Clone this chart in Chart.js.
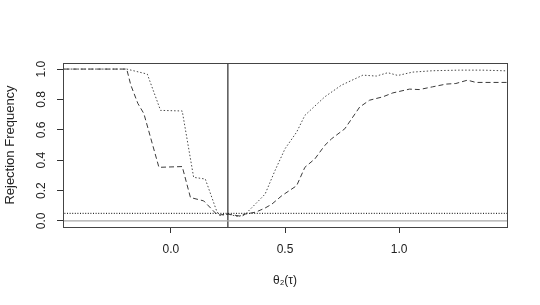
<!DOCTYPE html>
<html>
<head>
<meta charset="utf-8">
<script src="https://cdn.jsdelivr.net/npm/chart.js@4"></script>
<style>
  html, body { margin: 0; padding: 0; background: #fff; }
  #wrap { width: 540px; height: 305px; }
</style>
</head>
<body>
<div id="wrap"><canvas id="rejChart"></canvas></div>
<script>
// values
var dashX = [-0.5, -0.193, -0.175, -0.144, -0.118, -0.052, 0.05, 0.086, 0.144, 0.2, 0.215, 0.25, 0.311, 0.326, 0.372, 0.413, 0.442, 0.486, 0.551, 0.587, 0.631, 0.674, 0.704, 0.762, 0.827, 0.87, 0.928, 0.972, 1.045, 1.088, 1.146, 1.205, 1.248, 1.299, 1.336, 1.408, 1.5];
var dashY = [1.0, 1.0, 0.894, 0.773, 0.707, 0.353, 0.358, 0.154, 0.132, 0.045, 0.04, 0.045, 0.03, 0.045, 0.058, 0.085, 0.11, 0.166, 0.232, 0.353, 0.409, 0.497, 0.541, 0.607, 0.75, 0.795, 0.817, 0.843, 0.868, 0.865, 0.883, 0.901, 0.905, 0.927, 0.912, 0.912, 0.912];

var dotX = [-0.5, -0.193, -0.103, -0.045, 0.05, 0.1, 0.151, 0.202, 0.215, 0.25, 0.296, 0.33, 0.384, 0.413, 0.456, 0.5, 0.551, 0.587, 0.674, 0.747, 0.841, 0.9, 0.95, 0.994, 1.059, 1.146, 1.263, 1.364, 1.5];
var dotY = [1.0, 1.0, 0.967, 0.728, 0.724, 0.287, 0.276, 0.06, 0.035, 0.045, 0.028, 0.05, 0.132, 0.177, 0.331, 0.475, 0.585, 0.695, 0.817, 0.894, 0.96, 0.954, 0.976, 0.958, 0.98, 0.989, 0.993, 0.993, 0.987];

var nominal = 0.05;
var trueTheta = 0.25;
var xTicks = [0.0, 0.5, 1.0];
var yTicks = [0.0, 0.2, 0.4, 0.6, 0.8, 1.0];

function pairs(xs, ys) {
  var out = [];
  for (var i = 0; i < xs.length; i++) {
    out.push({ x: xs[i], y: ys[i] });
  }
  return out;
}

// plot box like R's box()
var boxPlugin = {
  id: 'box',
  afterDraw: function(chart) {
    var a = chart.chartArea;
    var ctx = chart.ctx;
    ctx.save();
    ctx.strokeStyle = '#444';
    ctx.lineWidth = 1;
    ctx.strokeRect(a.left + 0.5, a.top + 0.5, a.right - a.left, a.bottom - a.top);
    ctx.restore();
  }
};

Chart.defaults.font.family = '"Liberation Sans", Arial, sans-serif';
Chart.defaults.color = '#222';

new Chart('rejChart', {
  type: 'line',
  data: {
    datasets: [
      { data: [{ x: -0.5, y: 0 }, { x: 1.5, y: 0 }], borderColor: '#a8a8a8', borderWidth: 1.2 },
      { data: [{ x: -0.5, y: nominal }, { x: 1.5, y: nominal }], borderColor: '#000', borderWidth: 1, borderDash: [1, 1.6] },
      { data: [{ x: trueTheta, y: -0.1 }, { x: trueTheta, y: 1.1 }], borderColor: '#000', borderWidth: 1 },
      { data: pairs(dotX, dotY), borderColor: '#4a4a4a', borderWidth: 1, borderDash: [1.5, 2] },
      { data: pairs(dashX, dashY), borderColor: '#3a3a3a', borderWidth: 1, borderDash: [5, 3] }
    ]
  },
  options: {
    responsive: true,
    maintainAspectRatio: false,
    animation: false,
    events: [],
    elements: { point: { radius: 0 }, line: { tension: 0 } },
    layout: { padding: { left: 0, right: 33, top: 63, bottom: 0 } },
    plugins: { legend: { display: false }, tooltip: { enabled: false } },
    scales: {
      x: {
        type: 'linear',
        min: -0.472,
        max: 1.472,
        afterBuildTicks: function(scale) {
          scale.ticks = xTicks.map(function(v) { return { value: v }; });
        },
        afterFit: function(scale) { scale.height = 78; },
        grid: { drawOnChartArea: false, drawTicks: true, tickLength: 6, color: '#333' },
        border: { display: false },
        ticks: {
          font: { size: 12 },
          padding: 9,
          maxRotation: 0,
          callback: function(v) { return v.toFixed(1); }
        },
        title: { display: true, text: 'θ₂(τ)', font: { size: 12 }, padding: { top: 0, bottom: 17 } }
      },
      y: {
        min: -0.04,
        max: 1.04,
        afterBuildTicks: function(scale) {
          scale.ticks = yTicks.map(function(v) { return { value: v }; });
        },
        afterFit: function(scale) { scale.width = 63; },
        grid: { drawOnChartArea: false, drawTicks: true, tickLength: 6, color: '#333' },
        border: { display: false },
        ticks: {
          font: { size: 12 },
          padding: 7,
          minRotation: 90,
          maxRotation: 90,
          crossAlign: 'center',
          callback: function(v) { return v.toFixed(1); }
        },
        title: { display: true, text: 'Rejection Frequency', font: { size: 13 }, padding: { top: 3, bottom: 0 } }
      }
    }
  },
  plugins: [boxPlugin]
});
</script>
</body>
</html>
